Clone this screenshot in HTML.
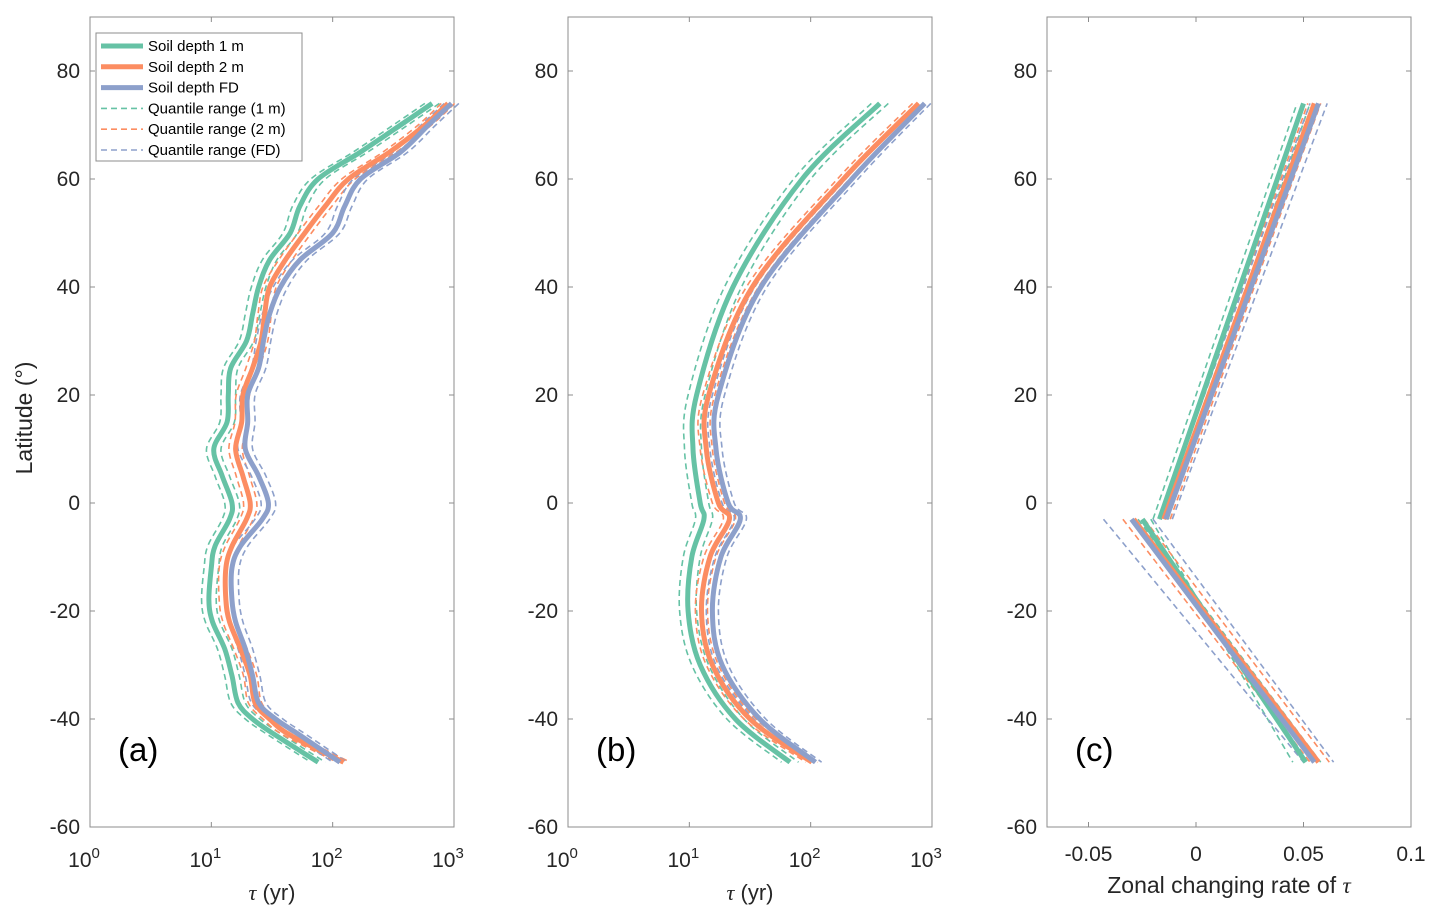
<!DOCTYPE html>
<html><head><meta charset="utf-8"><style>
body{margin:0;background:#fff}
svg{font-family:"Liberation Sans",sans-serif}
</style></head><body>
<svg id="fig" width="1435" height="919" viewBox="0 0 1435 919" xmlns="http://www.w3.org/2000/svg"></svg>
<script>
// Panel (a): log10(tau) by latitude
const latsA=[74,70,65,60,55,50,45,40,35,30,25,20,15,10,5,0,-3,-8,-12,-18,-22,-27,-32,-37,-40,-43,-48];
const a1m=[2.82,2.56,2.23,1.88,1.73,1.65,1.48,1.39,1.34,1.29,1.16,1.14,1.13,1.02,1.09,1.17,1.15,1.03,1.00,0.98,1.01,1.11,1.17,1.22,1.34,1.53,1.88];
const a2m=[2.95,2.76,2.47,2.13,1.94,1.77,1.61,1.48,1.44,1.41,1.34,1.26,1.25,1.20,1.26,1.32,1.29,1.17,1.12,1.12,1.15,1.24,1.32,1.36,1.48,1.65,2.09];
const aFD=[2.98,2.79,2.56,2.23,2.10,2.00,1.73,1.57,1.48,1.43,1.39,1.30,1.30,1.28,1.39,1.47,1.42,1.24,1.17,1.17,1.20,1.28,1.34,1.39,1.53,1.73,2.06];
const aSpread=[0.06,0.055,0.06];
// Panel (b)
const latsB=[74,60,40,20,10,0,-3,-10,-20,-30,-40,-48];
const b1m=[2.57,1.93,1.36,1.06,1.03,1.09,1.12,1.02,0.99,1.09,1.38,1.83];
const b2m=[2.89,2.27,1.52,1.16,1.14,1.24,1.33,1.17,1.10,1.19,1.50,2.01];
const bFD=[2.94,2.34,1.59,1.24,1.22,1.32,1.42,1.26,1.19,1.27,1.58,2.04];
const bSpread=[0.07,0.05,0.05];
// Panel (c)
const cNorthLat=[-3,74];
const cSouthLat=[-3,-48];
const cN1m=[-0.017,0.050], cN2m=[-0.015,0.055], cNFD=[-0.014,0.057];
const cS1m=[-0.025,0.051], cS2m=[-0.029,0.057], cSFD=[-0.030,0.055];
const cNLo=[[-0.020,0.047],[-0.017,0.052],[-0.017,0.053]];
const cNHi=[[-0.013,0.053],[-0.012,0.058],[-0.011,0.061]];
const cSLo=[[-0.021,0.045],[-0.034,0.053],[-0.043,0.050]];
const cSHi=[[-0.027,0.058],[-0.024,0.062],[-0.020,0.064]];
const yTicks=[80,60,40,20,0,-20,-40,-60];
const cTicks=[-0.05,0,0.05,0.1];
const cTickLabels=["-0.05","0","0.05","0.1"];
const colors=["#66c2a5","#fc8d62","#8da0cb"];

const NS="http://www.w3.org/2000/svg";
const svg=document.getElementById('fig');
function mk(tag,attrs,parent){const e=document.createElementNS(NS,tag);for(const k in attrs)e.setAttribute(k,attrs[k]);(parent||svg).appendChild(e);return e;}
const Y=lat=>503-5.4*lat;
const panels=[{x0:90,name:'a'},{x0:568,name:'b'},{x0:1047,name:'c'}];
const W=364;
function logX(x0){return v=>x0+v*121.33;}
function cX(v){return 1196+v*2150;}
function pathStr(xs,ys,smooth){
  if(!smooth)return xs.map((x,i)=>(i?'L':'M')+x.toFixed(1)+','+ys[i].toFixed(1)).join('');
  let d='M'+xs[0]+','+ys[0];
  for(let i=0;i<xs.length-1;i++){
    const p0=i?i-1:i,p3=i+2<xs.length?i+2:i+1;
    const c1x=xs[i]+(xs[i+1]-xs[p0])/6,c1y=ys[i]+(ys[i+1]-ys[p0])/6;
    const c2x=xs[i+1]-(xs[p3]-xs[i])/6,c2y=ys[i+1]-(ys[p3]-ys[i])/6;
    d+='C'+c1x.toFixed(1)+','+c1y.toFixed(1)+' '+c2x.toFixed(1)+','+c2y.toFixed(1)+' '+xs[i+1].toFixed(1)+','+ys[i+1].toFixed(1);
  }
  return d;
}
function line(d,color,dashed,name,g){
  const p=mk('path',{d:d,fill:'none',stroke:color,'stroke-width':dashed?1.6:5,'stroke-dasharray':dashed?'6,4':'none','stroke-linejoin':'round'},g);
  
  
}
const names=['1m','2m','fd'];
panels.forEach((p,pi)=>{
  const g=mk('g',{});
  
  
  mk('rect',{x:p.x0,y:17,width:W,height:810,fill:'none',stroke:'#8c8c8c','stroke-width':1},g);
  yTicks.forEach(t=>{
    mk('line',{x1:p.x0,x2:p.x0+5,y1:Y(t),y2:Y(t),stroke:'#8c8c8c'},g);
    mk('line',{x1:p.x0+W,x2:p.x0+W-5,y1:Y(t),y2:Y(t),stroke:'#8c8c8c'},g);
    const tx=mk('text',{x:p.x0-10,y:Y(t)+7,'text-anchor':'end','font-size':21,fill:'#262626'},g);
    tx.textContent=t;
    
    
  });
  if(pi<2){
    const X=logX(p.x0);
    [0,1,2,3].forEach(e=>{
      mk('line',{x1:X(e),x2:X(e),y1:827,y2:822,stroke:'#8c8c8c'},g);
      mk('line',{x1:X(e),x2:X(e),y1:17,y2:22,stroke:'#8c8c8c'},g);
      const tx=mk('text',{x:X(e)-6,y:867,'text-anchor':'middle','font-size':21,fill:'#262626'},g);
      tx.innerHTML='10<tspan dy="-9" font-size="15">'+e+'</tspan>';
      
      
    });
    const at=mk('text',{x:p.x0+182,y:900,'text-anchor':'middle','font-size':22,fill:'#262626'},g);
    at.innerHTML='<tspan font-family="Liberation Serif" font-style="italic">τ</tspan> (yr)';
    
    
  } else {
    cTicks.forEach((t,i)=>{
      mk('line',{x1:cX(t),x2:cX(t),y1:827,y2:822,stroke:'#8c8c8c'},g);
      mk('line',{x1:cX(t),x2:cX(t),y1:17,y2:22,stroke:'#8c8c8c'},g);
      const tx=mk('text',{x:cX(t),y:861,'text-anchor':'middle','font-size':21,fill:'#262626'},g);
      tx.textContent=cTickLabels[i];
      
      
    });
    const at=mk('text',{x:1229,y:893,'text-anchor':'middle','font-size':23,fill:'#262626'},g);
    at.innerHTML='Zonal changing rate of <tspan font-family="Liberation Serif" font-style="italic">τ</tspan>';
    
    
  }
  const pl=mk('text',{x:p.x0+28,y:761,'font-size':33,fill:'#000'},g);
  pl.textContent='('+p.name+')';
  
  
});
const yl=mk('text',{x:0,y:0,transform:'translate(32,418) rotate(-90)','text-anchor':'middle','font-size':23,fill:'#262626'});
yl.textContent='Latitude (°)';



function drawLog(pi,lats,series,spread,smooth){
  const X=logX(panels[pi].x0);
  const ys=lats.map(Y);
  series.forEach((s,k)=>{
    line(pathStr(s.map(v=>X(v-spread[k])),ys,smooth),colors[k],true,'quantile-low-'+names[k]);
    line(pathStr(s.map(v=>X(v+spread[k])),ys,smooth),colors[k],true,'quantile-high-'+names[k]);
  });
  series.forEach((s,k)=>line(pathStr(s.map(X),ys,smooth),colors[k],false,'line-'+names[k]));
}
drawLog(0,latsA,[a1m,a2m,aFD],aSpread,true);
drawLog(1,latsB,[b1m,b2m,bFD],bSpread,true);
[[cNorthLat,[cN1m,cN2m,cNFD],cNLo,cNHi],[cSouthLat,[cS1m,cS2m,cSFD],cSLo,cSHi]].forEach(([lats,ser,lo,hi])=>{
  const ys=lats.map(Y);
  ser.forEach((s,k)=>{
    line(pathStr(lo[k].map(cX),ys),colors[k],true,'quantile-low-'+names[k]);
    line(pathStr(hi[k].map(cX),ys),colors[k],true,'quantile-high-'+names[k]);
  });
  ser.forEach((s,k)=>line(pathStr(s.map(cX),ys),colors[k],false,'line-'+names[k]));
});
const lg=mk('g',{});


mk('rect',{x:96,y:33,width:206,height:128,fill:'#fff',stroke:'#8c8c8c'},lg);
const labels=['Soil depth 1 m','Soil depth 2 m','Soil depth FD','Quantile range (1 m)','Quantile range (2 m)','Quantile range (FD)'];
labels.forEach((t,i)=>{
  const y=46+i*20.8;
  const dashed=i>=3;
  mk('line',{x1:101,x2:143,y1:y,y2:y,stroke:colors[i%3],'stroke-width':dashed?1.6:5,'stroke-dasharray':dashed?'6,4':'none'},lg);
  const tx=mk('text',{x:148,y:y+5,'font-size':15,fill:'#000'},lg);
  tx.textContent=t;
  
  
});
</script>
</body></html>
